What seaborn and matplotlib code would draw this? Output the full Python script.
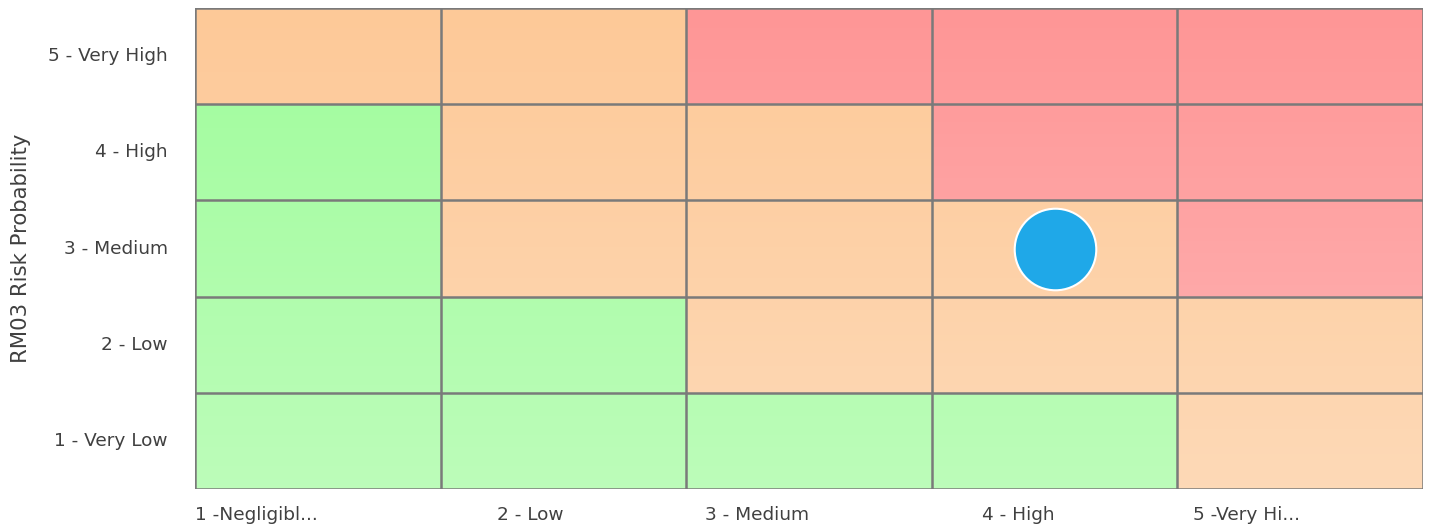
import numpy as np
import pandas as pd
import seaborn as sns
import matplotlib.pyplot as plt
from matplotlib.colors import ListedColormap

# ---- data ----
impact_labels = ["1 -Negligibl...", "2 - Low", "3 - Medium", "4 - High", "5 -Very Hi..."]
prob_labels = ["5 - Very High", "4 - High", "3 - Medium", "2 - Low", "1 - Very Low"]  # top to bottom
# risk level per cell: 0 = low (green), 1 = medium (orange), 2 = high (red)
row_5 = [1, 1, 2, 2, 2]
row_4 = [0, 1, 1, 2, 2]
row_3 = [0, 1, 1, 1, 2]
row_2 = [0, 0, 1, 1, 1]
row_1 = [0, 0, 0, 0, 1]
risk_impact = ["4 - High"]
risk_prob = ["3 - Medium"]
y_title = "RM03 Risk Probability"

level_colors = ["#A0FC9C", "#FDC998", "#FE9696"]

df = pd.DataFrame([row_5, row_4, row_3, row_2, row_1], index=prob_labels, columns=impact_labels)

sns.set_theme(style="white")
plt.rcParams['font.family'] = ['DejaVu Sans']

fig = plt.figure(figsize=(14.29, 5.27), dpi=100)
ax = fig.add_axes([195/1429, 1-489/527, (1423-195)/1429, (489-8)/527])

sns.heatmap(df, cmap=ListedColormap(level_colors), vmin=-0.5, vmax=2.5, cbar=False,
            linewidths=0, ax=ax)

# vertical light gradient (lighter toward bottom)
grad = np.linspace(0, 1, 256).reshape(-1, 1)
white = np.ones((256, 1, 4))
white[..., 3] = 0.3 * grad
ax.imshow(white, extent=[0, len(impact_labels), len(prob_labels), 0], aspect='auto',
          zorder=1.5, interpolation='bilinear')
ax.set_xlim(0, len(impact_labels))
ax.set_ylim(len(prob_labels), 0)

# grid lines
for i in range(len(prob_labels) + 1):
    ax.axhline(i, color="#7a7a7a", lw=1.8, zorder=3)
for j in range(len(impact_labels) + 1):
    ax.axvline(j, color="#7a7a7a", lw=1.8, zorder=3)

# risk marker
xs = [impact_labels.index(v) + 0.5 for v in risk_impact]
ys = [prob_labels.index(v) + 0.5 for v in risk_prob]
ax.scatter(xs, ys, s=3450, color="#1FA8E8", edgecolor="white", linewidth=1.5, zorder=4)

ax.set_xticks(np.arange(len(impact_labels)) + 0.5)
ax.set_xticklabels(impact_labels, rotation=0, ha='right', fontsize=13.3, color="#404040")
ax.set_yticks(np.arange(len(prob_labels)) + 0.5)
ax.set_yticklabels(prob_labels, rotation=0, fontsize=13.3, color="#404040")
ax.tick_params(axis='x', length=0, pad=12)
ax.tick_params(axis='y', length=0, pad=19.5)
ax.set_xlabel("")
ax.set_ylabel(y_title, fontsize=15.3, color="#404040", labelpad=12)
for s in ax.spines.values():
    s.set_visible(False)

fig.savefig("out.png", dpi=100, facecolor="white")
